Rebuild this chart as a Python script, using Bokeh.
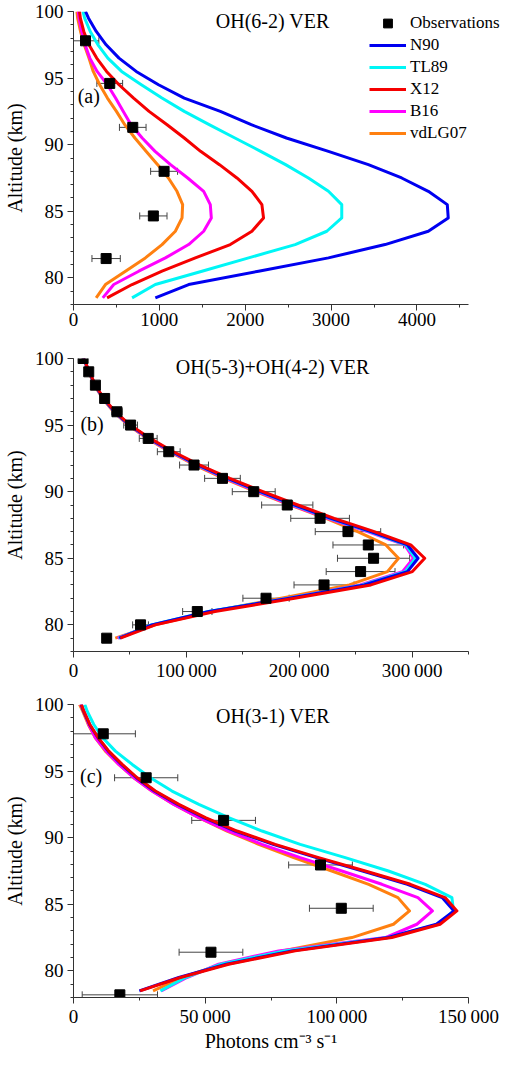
from bokeh.plotting import figure
from bokeh.models import (ColumnDataSource, Whisker, TeeHead, Legend, LegendItem, Label,
                          FixedTicker, Range1d, CustomJSTickFormatter)
from bokeh.layouts import column
from bokeh.embed import file_html
from bokeh.resources import INLINE

FONT = "Liberation Serif"

# ---------------- data ----------------
alt_a = [78.5, 79.5, 80.5, 81.5, 82.5, 83.5, 84.5, 85.5, 86.5, 87.5, 88.5, 89.5,
         90.5, 91.5, 92.5, 93.5, 94.5, 95.5, 96.5, 97.5, 98.5, 99.5, 100]
alt_b = [79, 80, 81, 82, 83, 84, 85, 86, 87, 88, 89, 90, 91, 92, 93, 94, 95, 96,
         97, 98, 99, 100]
alt_c = alt_a

a_N90 = [953, 1341, 2155, 2969, 3628, 4132, 4364, 4353, 4132, 3822, 3434, 2969,
         2480, 2070, 1710, 1290, 990, 730, 530, 380, 265, 175, 140]
a_TL89 = [682, 953, 1496, 2039, 2581, 2950, 3124, 3124, 2969, 2736, 2470, 2180,
          1880, 1580, 1290, 1030, 790, 560, 400, 285, 195, 130, 110]
a_X12 = [391, 682, 1031, 1419, 1826, 2078, 2213, 2194, 2078, 1903, 1700, 1480,
         1290, 1090, 880, 700, 530, 385, 270, 180, 120, 80, 70]
a_B16 = [341, 469, 760, 1070, 1341, 1516, 1605, 1593, 1516, 1330, 1130, 950,
         800, 670, 580, 490, 395, 275, 190, 135, 95, 65, 55]
a_vdLG07 = [264, 372, 605, 837, 1031, 1186, 1264, 1271, 1205, 1105, 980, 845,
            715, 597, 500, 395, 305, 230, 180, 125, 82, 48, 40]
a_obs_alt = [97.8, 94.6, 91.3, 88.0, 84.65, 81.45]
a_obs_val = [140, 422, 690, 1055, 930, 380]
a_obs_err = [155, 150, 155, 157, 159, 165]

b_N90 = [40600, 69400, 120000, 191500, 257600, 295900, 305300, 295900, 263500, 228000,
         196000, 165500, 136500, 110500, 87300, 67000, 49700, 36500, 26500, 19100, 13900, 9000]
b_TL89 = [40000, 69000, 119500, 190500, 256000, 294000, 303000, 294500, 262500, 227000,
          195000, 164800, 136000, 110000, 87000, 66800, 49500, 36300, 26300, 19000, 13800, 8900]
b_X12 = [41500, 72400, 125300, 195900, 263500, 300300, 311200, 298800, 266500, 231000,
         198800, 167900, 138500, 112000, 88500, 67900, 50300, 37000, 26800, 19400, 14100, 9100]
b_B16 = [39000, 70500, 121500, 190000, 254000, 291500, 301200, 293500, 260600, 225000,
         193000, 163000, 134500, 109000, 86000, 66000, 49000, 36000, 26200, 18900, 13700, 8800]
b_vdLG07 = [37000, 72400, 122400, 184100, 244400, 278200, 288000, 276800, 251800, 223800,
            192000, 161500, 133000, 107500, 85000, 65300, 48500, 35500, 25800, 18600, 13500, 8600]
b_obs_alt = [100, 99, 98, 97, 96, 95, 94, 93, 92, 91, 90, 89, 88, 87, 86, 85, 84, 83,
             82, 81, 80, 79]
b_obs_val = [8500, 13500, 19400, 27600, 38500, 50600, 66200, 84400, 106800, 132000,
             159700, 189400, 218500, 243200, 261200, 265900, 254400, 222000, 170600,
             109700, 59400, 29400]
b_obs_err = [1000, 1600, 2300, 3300, 4600, 6100, 7900, 10100, 12800, 15800, 19000, 22700,
             26000, 29000, 31300, 32000, 30500, 26600, 20500, 13000, 7000, 3500]

c_N90 = [25000, 40000, 58000, 83000, 119500, 137800, 144500, 140000, 126800, 109800,
         92200, 75800, 61400, 49500, 39500, 30700, 23900, 18200, 13200, 9300, 6100, 3800, 2950]
c_TL89 = [33000, 42500, 56000, 80000, 119500, 138600, 144300, 143700, 133600, 119600,
          103200, 86100, 71600, 58900, 47600, 37400, 29200, 22300, 15900, 11100, 7700, 5200, 4300]
c_X12 = [25300, 40600, 58900, 84200, 120900, 139200, 145600, 141100, 127900, 110800,
         93100, 76600, 62100, 50100, 40000, 31100, 24200, 18500, 13400, 9400, 6200, 3900, 3000]
c_B16 = [33300, 43100, 55100, 77900, 118400, 130400, 136300, 130800, 117100, 101900,
         86100, 71600, 58900, 47600, 38100, 29800, 22900, 17200, 12400, 8300, 5800, 3900, 2700]
c_vdLG07 = [30200, 41200, 56400, 79200, 105700, 121500, 127600, 123200, 112100, 98100,
            83600, 70300, 58300, 47600, 38100, 29800, 22900, 17200, 12100, 8300, 5600, 3500, 2300]
c_obs_alt = [97.8, 94.5, 91.3, 87.95, 84.7, 81.4, 78.2]
c_obs_val = [11300, 27600, 57000, 93800, 101700, 52200, 17600]
c_obs_err = [12200, 12000, 12100, 12100, 12100, 12100, 14300]

model_names = ["N90", "TL89", "X12", "B16", "vdLG07"]
colors = {"N90": "#0000f0", "TL89": "#00f6f6", "X12": "#f50000",
          "B16": "#ff00ff", "vdLG07": "#ff8010"}
draw_order = ["vdLG07", "B16", "TL89", "N90", "X12"]

y_major = [80, 85, 90, 95, 100]
y_minor = list(range(78, 101))

FRAME_W = 395


def style_axis(ax):
    ax.axis_label_text_font = FONT
    ax.axis_label_text_font_style = "normal"
    ax.axis_label_text_font_size = "20px"
    ax.axis_label_text_color = "black"
    ax.major_label_text_font = FONT
    ax.major_label_text_font_size = "19px"
    ax.major_label_text_color = "black"
    ax.axis_line_color = "#333333"
    ax.major_tick_line_color = "#333333"
    ax.minor_tick_line_color = "#333333"
    ax.major_tick_in = 0
    ax.major_tick_out = 6
    ax.minor_tick_in = 0
    ax.minor_tick_out = 3


def make_panel(x_end, x_major, x_minor, models, alts, obs_alt, obs_val, obs_err,
               title, title_xy, tag, tag_xy, top_b, bottom_b, xlabel=None, legend=False,
               extra_w=0):
    fw = FRAME_W + extra_w
    p = figure(frame_width=fw, frame_height=293,
               x_range=Range1d(0, x_end * fw / FRAME_W),
               y_range=Range1d(78, 100), output_backend="svg", toolbar_location=None,
               min_border_left=70, min_border_right=34 - extra_w, min_border_top=top_b,
               min_border_bottom=bottom_b, background_fill_color="white",
               border_fill_color="white")
    p.outline_line_color = None
    p.xgrid.visible = False
    p.ygrid.visible = False

    xa = p.xaxis[0]
    ya = p.yaxis[0]
    style_axis(xa)
    style_axis(ya)
    xa.ticker = FixedTicker(ticks=x_major, minor_ticks=x_minor)
    xa.bounds = (0, x_end)
    ya.ticker = FixedTicker(ticks=y_major, minor_ticks=y_minor)
    xa.formatter = CustomJSTickFormatter(code="""
const s = Math.round(tick).toString();
if (s.length <= 4) return s;
return s.replace(/\\B(?=(\\d{3})+(?!\\d))/g, "\\u2009");
""")
    xa.major_label_standoff = 2
    ya.major_label_standoff = 4
    ya.axis_label = "Altitude (km)"
    ya.axis_label_standoff = 6
    if xlabel:
        xa.axis_label = xlabel
        xa.axis_label_standoff = 0

    renderers = {}
    for name in draw_order:
        r = p.line(models[name], alts, line_color=colors[name], line_width=3,
                   line_join="round")
        renderers[name] = r

    lo = [max(0, v - e) for v, e in zip(obs_val, obs_err)]
    hi = [v + e for v, e in zip(obs_val, obs_err)]
    src = ColumnDataSource(dict(x=obs_val, alt=obs_alt, lo=lo, hi=hi))
    whisk = Whisker(source=src, base="alt", lower="lo", upper="hi", dimension="width",
                    line_color="#444444", line_width=1,
                    upper_head=TeeHead(size=7, line_color="#444444", line_width=1),
                    lower_head=TeeHead(size=7, line_color="#444444", line_width=1))
    p.add_layout(whisk)
    sq = p.scatter("x", "alt", source=src, marker="square", size=10,
                   fill_color="black", line_color="black")

    p.add_layout(Label(x=title_xy[0], y=title_xy[1], text=title, text_font=FONT,
                       text_font_size="20px", text_align="center",
                       text_baseline="middle", text_color="black"))
    p.add_layout(Label(x=tag_xy[0], y=tag_xy[1], text=tag, text_font=FONT,
                       text_font_size="20px", text_align="center",
                       text_baseline="middle", text_color="black"))

    if legend:
        items = [LegendItem(label="Observations", renderers=[sq])]
        items += [LegendItem(label=n, renderers=[renderers[n]]) for n in model_names]
        lg = Legend(items=items, location=(296, 160), padding=0, spacing=0, margin=0,
                    glyph_width=37, glyph_height=22, label_height=22, label_standoff=4,
                    label_text_font=FONT, label_text_font_size="17px",
                    label_text_color="black", border_line_color=None,
                    background_fill_alpha=0)
        p.add_layout(lg)
    return p


models_a = dict(N90=a_N90, TL89=a_TL89, X12=a_X12, B16=a_B16, vdLG07=a_vdLG07)
models_b = dict(N90=b_N90, TL89=b_TL89, X12=b_X12, B16=b_B16, vdLG07=b_vdLG07)
models_c = dict(N90=c_N90, TL89=c_TL89, X12=c_X12, B16=c_B16, vdLG07=c_vdLG07)

p1 = make_panel(4600, [0, 1000, 2000, 3000, 4000], [500, 1500, 2500, 3500, 4500],
                models_a, alt_a, a_obs_alt, a_obs_val, a_obs_err,
                "OH(6-2) VER", (2320, 99.28), "(a)", (178, 93.68), 11, 42, legend=True,
                extra_w=33)
p2 = make_panel(350000, [0, 100000, 200000, 300000], [50000, 150000, 250000, 350000],
                models_b, alt_b, b_obs_alt, b_obs_val, b_obs_err,
                "OH(5-3)+OH(4-2) VER", (176500, 99.33), "(b)", (16500, 95.05), 12, 41)
p3 = make_panel(150000, [0, 50000, 100000, 150000], [25000, 75000, 125000],
                models_c, alt_c, c_obs_alt, c_obs_val, c_obs_err,
                "OH(3-1) VER", (75760, 99.1), "(c)", (6700, 94.63), 12, 52,
                xlabel="Photons cm\u207b\u00b3 s\u207b\u00b9")

layout = column(p1, p2, p3, spacing=0)
open("out.html", "w").write(file_html(layout, INLINE))
